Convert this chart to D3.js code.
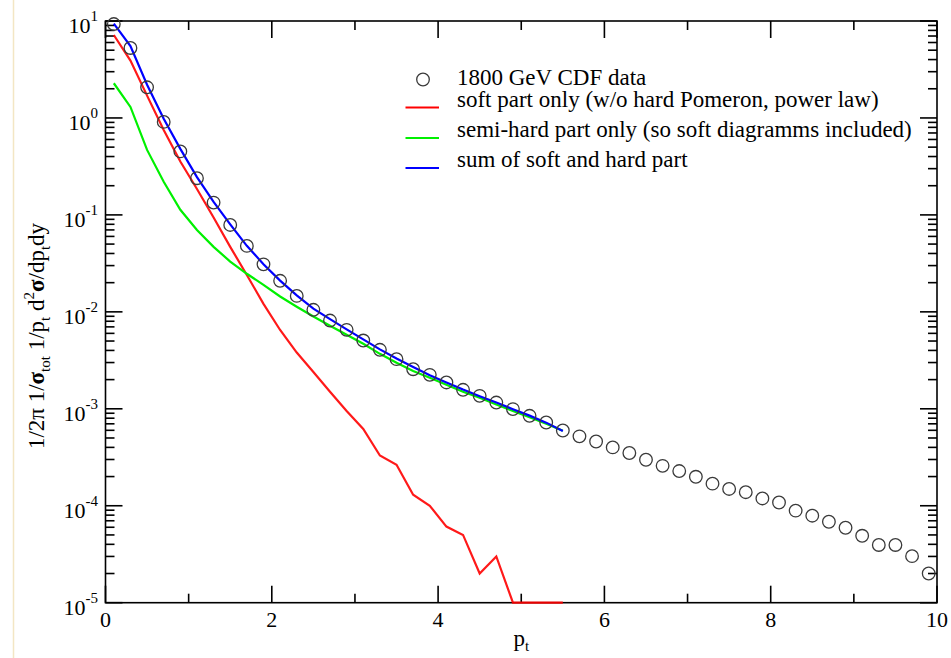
<!DOCTYPE html>
<html>
<head>
<meta charset="utf-8">
<script src="https://cdn.jsdelivr.net/npm/d3@7"></script>
<style>
  body { margin: 0; background: #fff; }
  text { font-family: "Liberation Serif", "Times New Roman", serif; fill: #000; }
</style>
</head>
<body>
<script>
// CDF data points (pt, value)
const cdfPt = [0.1, 0.3, 0.5, 0.7, 0.9, 1.1, 1.3, 1.5, 1.7, 1.9,
               2.1, 2.3, 2.5, 2.7, 2.9, 3.1, 3.3, 3.5, 3.7, 3.9,
               4.1, 4.3, 4.5, 4.7, 4.9, 5.1, 5.3, 5.5, 5.7, 5.9,
               6.1, 6.3, 6.5, 6.7, 6.9, 7.1, 7.3, 7.5, 7.7, 7.9,
               8.1, 8.3, 8.5, 8.7, 8.9, 9.1, 9.3, 9.5, 9.7, 9.9];
const cdfValue = [9.3, 5.27, 2.07, 0.91, 0.452, 0.239, 0.134, 0.0788, 0.0479, 0.0309,
                  0.0209, 0.0146, 0.0105, 0.00813, 0.00652, 0.00506, 0.00406, 0.00325, 0.00256, 0.00224,
                  0.00187, 0.00157, 0.00136, 0.00116, 0.000993, 0.000847, 0.000722, 0.000597, 0.00052, 0.00046,
                  0.0004, 0.00035, 0.000298, 0.000258, 0.000228, 0.000199, 0.000169, 0.000149, 0.000138, 0.000119,
                  0.000108, 0.000089, 0.000079, 0.0000684, 0.0000593, 0.000049, 0.0000394, 0.0000394, 0.0000302, 0.00002];

// model curves
const modelPt = [0.1, 0.3, 0.5, 0.7, 0.9, 1.1, 1.3, 1.5, 1.7, 1.9,
                 2.1, 2.3, 2.5, 2.7, 2.9, 3.1, 3.3, 3.5, 3.7, 3.9,
                 4.1, 4.3, 4.5, 4.7, 4.9, 5.1, 5.3, 5.5];
const softPart = [7.17, 3.9, 1.7, 0.75, 0.355, 0.185, 0.094, 0.0468, 0.024, 0.0121,
                  0.0065, 0.0038, 0.0024, 0.0015, 0.00095, 0.00062, 0.00033, 0.000265, 0.00013, 0.0001,
                  0.000061, 0.00005, 0.00002, 0.00003, 0.00001, 0.00001, 0.00001, 0.00001];
const semiHardPart = [2.28, 1.3, 0.468, 0.22, 0.113, 0.07, 0.0468, 0.033, 0.0247, 0.019,
                      0.0144, 0.0113, 0.00895, 0.00718, 0.0058, 0.00468, 0.00369, 0.00298, 0.00246, 0.00209,
                      0.00177, 0.0015, 0.0013, 0.00111, 0.00095, 0.000817, 0.0007, 0.000593];
const sumPart = [9.4, 5.5, 2.2, 0.98, 0.48, 0.245, 0.136, 0.08, 0.048, 0.031,
                 0.021, 0.0148, 0.0108, 0.0084, 0.0066, 0.0052, 0.0041, 0.0033, 0.0027, 0.00222,
                 0.00187, 0.00158, 0.00135, 0.00116, 0.00099, 0.00085, 0.00072, 0.00059];

const xMajor = [0, 2, 4, 6, 8, 10];
const xMinor = [1, 3, 5, 7, 9];
const yExp = [-5, -4, -3, -2, -1, 0, 1];

const legendLabels = ["1800 GeV CDF data",
                      "soft part only (w/o hard Pomeron, power law)",
                      "semi-hard part only (so soft diagramms included)",
                      "sum of soft and hard part"];

const W = 951, H = 658;
const pLeft = 105.5, pRight = 937, pTop = 21, pBottom = 602.7;

const svg = d3.select("body").append("svg")
    .attr("width", W)
    .attr("height", H);

// faint edge line from the original screenshot
svg.append("line")
    .attr("x1", 13.5).attr("x2", 13.5).attr("y1", 0).attr("y2", H)
    .attr("stroke", "#f3e6c4").attr("stroke-width", 1.5);

const x = d3.scaleLinear().domain([0, 10]).range([pLeft, pRight]);
const y = d3.scaleLog().domain([1e-5, 10]).range([pBottom, pTop]);

svg.append("clipPath").attr("id", "clip")
  .append("rect")
    .attr("x", pLeft).attr("y", pTop - 1)
    .attr("width", pRight - pLeft).attr("height", pBottom - pTop + 3);

const line = d3.line()
    .x(d => x(d[0]))
    .y(d => y(d[1]));

const curves = [
  { vals: softPart, color: "#ff0000" },
  { vals: semiHardPart, color: "#00f000" },
  { vals: sumPart, color: "#0000ff" }
];

// frame + ticks
const axisG = svg.append("g").attr("stroke", "#000").attr("stroke-width", 1.6);

axisG.append("rect")
    .attr("x", pLeft).attr("y", pTop)
    .attr("width", pRight - pLeft).attr("height", pBottom - pTop)
    .attr("fill", "none");

const majorLen = 17, minorLen = 9;

function xTick(v, len) {
  axisG.append("line").attr("x1", x(v)).attr("x2", x(v)).attr("y1", pBottom).attr("y2", pBottom - len);
  axisG.append("line").attr("x1", x(v)).attr("x2", x(v)).attr("y1", pTop).attr("y2", pTop + len);
}
xMajor.forEach(v => xTick(v, majorLen));
xMinor.forEach(v => xTick(v, minorLen));

function yTick(v, len) {
  axisG.append("line").attr("x1", pLeft).attr("x2", pLeft + len).attr("y1", y(v)).attr("y2", y(v));
  axisG.append("line").attr("x1", pRight).attr("x2", pRight - len).attr("y1", y(v)).attr("y2", y(v));
}
yExp.forEach(e => {
  yTick(Math.pow(10, e), majorLen);
  if (e < 1) {
    [2, 3, 4, 5, 6, 7, 8, 9].forEach(m => yTick(m * Math.pow(10, e), minorLen));
  }
});

const plot = svg.append("g").attr("clip-path", "url(#clip)");

curves.forEach((c, k) => {
  plot.append("path")
      .datum(modelPt.map((p, i) => [p, c.vals[i]]))
      .attr("fill", "none")
      .attr("stroke", c.color)
      .attr("stroke-width", 2.2)
      .attr("stroke-opacity", k === 0 ? 0.9 : 1)
      .attr("d", line);
});

svg.append("g").selectAll("circle")
  .data(cdfPt.map((p, i) => [p, cdfValue[i]]))
  .join("circle")
    .attr("cx", d => x(d[0]))
    .attr("cy", d => y(d[1]))
    .attr("r", 6.3)
    .attr("fill", "none")
    .attr("stroke", "#3a3a3a")
    .attr("stroke-width", 1.3);

// x tick labels
svg.append("g").selectAll("text")
  .data(xMajor)
  .join("text")
    .attr("x", d => x(d))
    .attr("y", pBottom + 24)
    .attr("text-anchor", "middle")
    .attr("font-size", 22)
    .text(d => d);

// y tick labels 10^n
yExp.forEach(e => {
  const t = svg.append("text")
      .attr("x", 98)
      .attr("y", y(Math.pow(10, e)) + 12)
      .attr("text-anchor", "end")
      .attr("font-size", 22);
  t.append("tspan").text("10");
  t.append("tspan").attr("dy", -12).attr("font-size", 15).text(e);
});

// x axis title
const xt = svg.append("text")
    .attr("x", (pLeft + pRight) / 2)
    .attr("y", 646)
    .attr("text-anchor", "middle")
    .attr("font-size", 23);
xt.append("tspan").text("p");
xt.append("tspan").attr("dy", 5).attr("font-size", 15).text("t");

// y axis title
const yt = svg.append("text")
    .attr("transform", "translate(44,336) rotate(-90)")
    .attr("text-anchor", "middle")
    .attr("font-size", 23);
yt.append("tspan").text("1/2\u03c0 1/");
yt.append("tspan").attr("font-weight", "bold").text("\u03c3");
yt.append("tspan").attr("dy", 6).attr("font-size", 15).text("tot");
yt.append("tspan").attr("dy", -6).text(" 1/p");
yt.append("tspan").attr("dy", 6).attr("font-size", 15).text("t");
yt.append("tspan").attr("dy", -6).text(" d");
yt.append("tspan").attr("dy", -10).attr("font-size", 15).text("2");
yt.append("tspan").attr("dy", 10).attr("font-weight", "bold").text("\u03c3");
yt.append("tspan").text("/dp");
yt.append("tspan").attr("dy", 6).attr("font-size", 15).text("t");
yt.append("tspan").attr("dy", -6).text("dy");

// legend
const legend = svg.append("g");
const legTextY = [84.5, 107, 137, 166.5];
const legLineY = [107.5, 138, 168];
legend.append("circle")
    .attr("cx", 423).attr("cy", 79.5).attr("r", 6.3)
    .attr("fill", "none").attr("stroke", "#3a3a3a").attr("stroke-width", 1.3);
curves.forEach((c, i) => {
  legend.append("line")
      .attr("x1", 405.5).attr("x2", 439)
      .attr("y1", legLineY[i]).attr("y2", legLineY[i])
      .attr("stroke", c.color).attr("stroke-width", 2.2);
});
legend.selectAll("text")
  .data(legendLabels)
  .join("text")
    .attr("x", 457)
    .attr("y", (d, i) => legTextY[i])
    .attr("font-size", 23)
    .text(d => d);
</script>
</body>
</html>
